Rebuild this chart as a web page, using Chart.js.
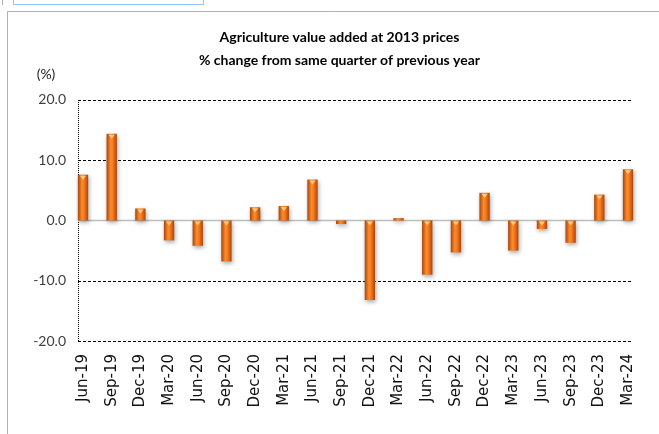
<!DOCTYPE html>
<html>
<head>
<meta charset="utf-8">
<script src="https://cdn.jsdelivr.net/npm/chart.js@4.4.1/dist/chart.umd.min.js"></script>
<style>
  html, body { margin: 0; padding: 0; background: #fff; }
</style>
</head>
<body>
<canvas id="agriChart" width="659" height="434"></canvas>
<script>
const quarters = ['Jun-19', 'Sep-19', 'Dec-19', 'Mar-20', 'Jun-20', 'Sep-20', 'Dec-20', 'Mar-21', 'Jun-21', 'Sep-21',
  'Dec-21', 'Mar-22', 'Jun-22', 'Sep-22', 'Dec-22', 'Mar-23', 'Jun-23', 'Sep-23', 'Dec-23', 'Mar-24'];
const growth = [7.6, 14.4, 2.0, -3.3, -4.2, -6.8, 2.2, 2.4, 6.8, -0.6,
  -13.2, 0.4, -9.0, -5.3, 4.6, -5.0, -1.4, -3.7, 4.3, 8.5];
const yTicks = [-20, -10, 0, 10, 20];
const titleLines = ['Agriculture value added at 2013 prices', '% change from same quarter of previous year'];

// page frame, little box at top left and the (%) unit
const frame = {
  id: 'frame',
  beforeDraw(chart) {
    const { ctx } = chart;
    ctx.save();
    ctx.fillStyle = '#fff';
    ctx.fillRect(0, 0, chart.width, chart.height);
    ctx.strokeStyle = '#8cc8ef';
    ctx.lineWidth = 1;
    ctx.strokeRect(13.5, -2.5, 190, 7);
    ctx.strokeStyle = '#b0b0b0';
    ctx.beginPath();
    ctx.moveTo(2.5, 0); ctx.lineTo(2.5, 5);
    ctx.moveTo(7.5, chart.height); ctx.lineTo(7.5, 11.5); ctx.lineTo(chart.width, 11.5);
    ctx.stroke();
    ctx.fillStyle = '#222';
    ctx.font = '14px Lato';
    ctx.textAlign = 'center';
    ctx.textBaseline = 'middle';
    ctx.fillText('(%)', 46, 74);
    ctx.restore();
  }
};

// dashed gridlines, grey zero line and dotted axis; shadow for the bars
const gridAndShadow = {
  id: 'gridAndShadow',
  beforeDatasetsDraw(chart) {
    const { ctx, chartArea: { left, right, top, bottom }, scales: { y } } = chart;
    const x0 = left - 5, x1 = right + 4;
    ctx.save();
    ctx.lineWidth = 1.2;
    ctx.strokeStyle = '#000';
    ctx.setLineDash([3, 2]);
    yTicks.forEach(v => {
      if (v === 0) return;
      const py = Math.round(y.getPixelForValue(v)) + 0.5;
      ctx.beginPath(); ctx.moveTo(x0, py); ctx.lineTo(x1, py); ctx.stroke();
    });
    ctx.lineWidth = 1;
    ctx.setLineDash([1, 1]);
    ctx.beginPath(); ctx.moveTo(x0 + 0.5, top); ctx.lineTo(x0 + 0.5, bottom); ctx.stroke();
    ctx.setLineDash([]);
    ctx.strokeStyle = '#bdbdbd';
    ctx.lineWidth = 1.5;
    const zy = y.getPixelForValue(0);
    ctx.beginPath(); ctx.moveTo(x0, zy); ctx.lineTo(x1, zy); ctx.stroke();
    ctx.restore();
    ctx.save();
    ctx.shadowColor = 'rgba(0,0,0,0.35)';
    ctx.shadowBlur = 4;
    ctx.shadowOffsetX = 1;
    ctx.shadowOffsetY = 2;
  },
  afterDatasetsDraw(chart) {
    const { ctx } = chart;
    ctx.restore();
    // small bevel highlight at the top of each bar
    ctx.save();
    ctx.fillStyle = 'rgba(255,214,150,0.85)';
    chart.getDatasetMeta(0).data.forEach(bar => {
      const { x, y, base, width } = bar.getProps(['x', 'y', 'base', 'width'], true);
      const top = Math.min(y, base);
      const h = Math.abs(base - y);
      if (h < 4) return;
      ctx.beginPath();
      ctx.moveTo(x - width / 2 + 2, top + 1);
      ctx.lineTo(x + width / 2 - 2, top + 1);
      ctx.lineTo(x, top + 5);
      ctx.closePath();
      ctx.fill();
    });
    ctx.restore();
  }
};

function barFill(context) {
  const chart = context.chart;
  if (context.dataIndex === undefined || !chart.scales.x) return '#e8711c';
  const x = chart.scales.x.getPixelForValue(context.dataIndex);
  if (!isFinite(x)) return '#e8711c';
  const g = chart.ctx.createLinearGradient(x - 5, 0, x + 5, 0);
  g.addColorStop(0, '#a9490b');
  g.addColorStop(0.4, '#ff8a2c');
  g.addColorStop(0.6, '#f97b1d');
  g.addColorStop(1, '#a9490b');
  return g;
}

new Chart(document.getElementById('agriChart'), {
  type: 'bar',
  data: {
    labels: quarters,
    datasets: [{
      data: growth,
      backgroundColor: barFill,
      borderWidth: 0,
      categoryPercentage: 1,
      barPercentage: 0.36,
      clip: false
    }]
  },
  options: {
    responsive: false,
    animation: false,
    layout: { padding: { left: 20, right: 0, top: 0, bottom: 0 } },
    plugins: {
      legend: { display: false },
      tooltip: { enabled: false },
      title: {
        display: true,
        text: titleLines,
        color: '#000',
        font: { family: 'Lato', weight: 'bold', size: 14, lineHeight: 1.66 },
        padding: { top: 26, bottom: 27.5 }
      }
    },
    scales: {
      x: {
        offset: false,
        grid: { display: false, drawTicks: false },
        border: { display: false },
        ticks: {
          autoSkip: false,
          minRotation: 90,
          maxRotation: 90,
          padding: 13,
          color: '#111',
          font: { family: 'DejaVu Sans', size: 15 }
        },
        afterFit(s) { s.height = 93; }
      },
      y: {
        min: -20,
        max: 20,
        grid: { display: false, drawTicks: false },
        border: { display: false },
        ticks: {
          stepSize: 10,
          padding: 17,
          color: '#404040',
          font: { family: 'Lato', size: 14 },
          callback: v => v.toFixed(1)
        },
        afterFit(s) { s.width = 63; }
      },
      y2: {
        type: 'linear',
        position: 'right',
        grid: { display: false, drawTicks: false },
        border: { display: false },
        ticks: { display: false },
        afterFit(s) { s.width = 20; }
      }
    }
  },
  plugins: [frame, gridAndShadow]
});
</script>
</body>
</html>
